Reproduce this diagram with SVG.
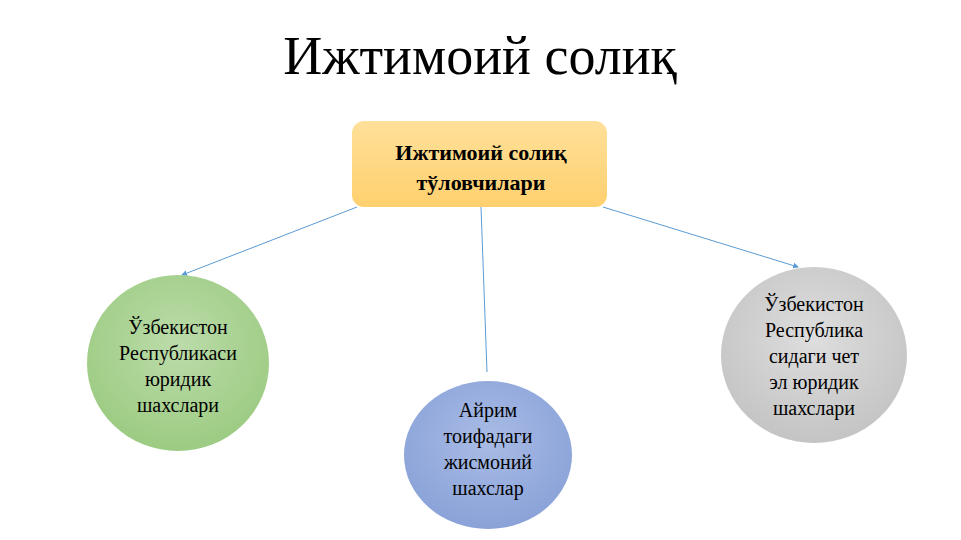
<svg xmlns="http://www.w3.org/2000/svg" width="961" height="540" viewBox="0 0 961 540">
<style>
text{font-family:"Liberation Serif","DejaVu Serif",serif;fill:#000;text-anchor:middle}
.n{font-size:20px}
.c{stroke:#fff;stroke-width:1}
.e{stroke:#5b9bd5;stroke-width:1;fill:none}
</style>
<defs>
<linearGradient id="go" x1="0" y1="0" x2="0" y2="1"><stop offset="0" stop-color="#ffe09a"/><stop offset="1" stop-color="#ffd06e"/></linearGradient>
<radialGradient id="gg" cx="0.5" cy="0.4" r="0.6"><stop offset="0" stop-color="#bcdcaa"/><stop offset="1" stop-color="#9ccb82"/></radialGradient>
<radialGradient id="gb" cx="0.5" cy="0.4" r="0.6"><stop offset="0" stop-color="#a9bce6"/><stop offset="1" stop-color="#8aa2d8"/></radialGradient>
<radialGradient id="gs" cx="0.5" cy="0.4" r="0.6"><stop offset="0" stop-color="#dedede"/><stop offset="1" stop-color="#c4c4c4"/></radialGradient>
<marker id="a" markerWidth="6" markerHeight="6" refX="5" refY="3" orient="auto" markerUnits="userSpaceOnUse"><path d="M0,0 L6,3 L0,6 z" fill="#5b9bd5"/></marker>
</defs>
<rect width="961" height="540" fill="#fff"/>
<text x="480" y="74" style="font-size:54px">Ижтимоий солиқ</text>
<g id="edges">
<line class="e" x1="357" y1="207" x2="182" y2="275" marker-end="url(#a)"/>
<line class="e" x1="481" y1="207" x2="487" y2="372"/>
<line class="e" x1="603" y1="207" x2="798" y2="267" marker-end="url(#a)"/>
</g>
<g id="top">
<rect x="352" y="121" width="255" height="86" rx="12" fill="url(#go)"/>
<text x="481" y="160" style="font-size:22px;font-weight:bold">Ижтимоий солиқ</text>
<text x="481" y="190" style="font-size:22px;font-weight:bold">тўловчилари</text>
</g>
<g id="n1">
<ellipse cx="178" cy="363" rx="91" ry="88" fill="url(#gg)"/>
<text class="n" x="178" y="334">Ўзбекистон</text>
<text class="n" x="178" y="360">Республикаси</text>
<text class="n" x="178" y="386">юридик</text>
<text class="n" x="178" y="412">шахслари</text>
</g>
<g id="n2">
<ellipse cx="488" cy="455" rx="84" ry="74" fill="url(#gb)"/>
<text class="n" x="488" y="417">Айрим</text>
<text class="n" x="488" y="443">тоифадаги</text>
<text class="n" x="488" y="469">жисмоний</text>
<text class="n" x="488" y="495">шахслар</text>
</g>
<g id="n3">
<ellipse cx="814" cy="355" rx="93" ry="88" fill="url(#gs)"/>
<text class="n" x="814" y="311">Ўзбекистон</text>
<text class="n" x="814" y="337">Республика</text>
<text class="n" x="814" y="363">сидаги чет</text>
<text class="n" x="814" y="389">эл юридик</text>
<text class="n" x="814" y="415">шахслари</text>
</g>
</svg>
